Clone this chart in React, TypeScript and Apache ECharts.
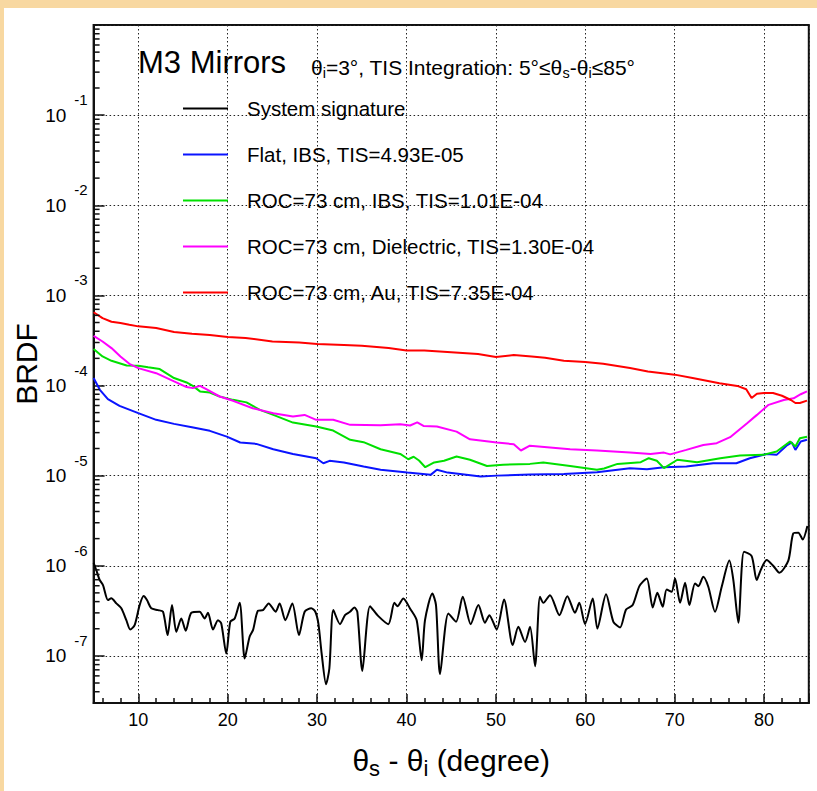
import React, { useEffect, useRef } from 'react';
import * as echarts from 'echarts';

const FONT = "'Liberation Sans', Arial, Helvetica, sans-serif";

const X_MIN = 5;
const X_MAX = 85;
const Y_MIN = 3e-8;
const Y_MAX = 1;

const SERIES_NAMES = [
  'System signature',
  'Flat, IBS, TIS=4.93E-05',
  'ROC=73 cm, IBS, TIS=1.01E-04',
  'ROC=73 cm, Dielectric, TIS=1.30E-04',
  'ROC=73 cm, Au, TIS=7.35E-04',
];
const SERIES_COLORS = ['#000000', '#0a14ff', '#00e000', '#ff00ff', '#ff0000'];

const sysX = [5, 5.3, 5.68, 6.05, 6.61, 6.98, 7.54, 8.1, 8.66, 9.1,
  9.59, 10.15, 10.6, 10.97, 11.45, 12.2, 12.76, 13.28, 13.77, 14.25,
  14.81, 15.3, 15.93, 16.86, 17.42, 17.79, 18.35, 18.91, 19.28, 19.84,
  20.29, 20.78, 21.34, 21.9, 22.45, 22.83, 23.39, 23.95, 24.58, 25.36,
  25.81, 26.44, 27.23, 27.97, 28.61, 29.35, 29.8, 30.14, 30.51, 31.0,
  31.37, 31.82, 32.56, 33.12, 33.68, 34.17, 34.5, 35.06, 35.92, 36.85,
  37.97, 38.64, 38.98, 39.65, 40.39, 41.14, 41.7, 42.07, 42.89, 43.3,
  43.75, 44.68, 45.54, 46.29, 47.18, 48.04, 48.78, 49.27, 50.09, 50.91,
  51.88, 52.51, 53.26, 53.82, 54.38, 54.93, 55.31, 56.05, 57.1, 57.99,
  58.85, 59.33, 59.97, 60.83, 61.35, 62.32, 63.14, 63.89, 64.56, 65.3,
  66.05, 66.87, 67.54, 68.06, 68.66, 69.1, 69.66, 70.04, 70.6, 71.16,
  71.64, 72.27, 72.65, 73.2, 73.76, 74.51, 75.26, 76.11, 76.56, 77.12,
  77.75, 78.61, 79.17, 79.62, 80.29, 81.04, 81.71, 82.71, 83.27, 83.83,
  84.32, 84.84];
const sysY = [1.08e-6, 8.97e-7, 6.95e-7, 6.11e-7, 4.16e-7, 4.35e-7, 3.82e-7, 3.37e-7, 2.49e-7, 1.96e-7,
  2.19e-7, 3.66e-7, 4.61e-7, 4.16e-7, 3.37e-7, 3.22e-7, 3.09e-7, 1.7e-7, 3.66e-7, 1.85e-7,
  2.6e-7, 1.9e-7, 3.01e-7, 3.09e-7, 2.6e-7, 3.01e-7, 1.96e-7, 2.49e-7, 2.29e-7, 1.06e-7,
  2.39e-7, 2.6e-7, 3.89e-7, 9.35e-8, 1.63e-7, 1.93e-7, 3.17e-7, 3.22e-7, 3.82e-7, 3.09e-7,
  3.82e-7, 2.49e-7, 3.82e-7, 1.7e-7, 3.09e-7, 3.37e-7, 3.09e-7, 2.29e-7, 1.06e-7, 4.84e-8,
  7.24e-8, 3.22e-7, 2.25e-7, 2.83e-7, 3.08e-7, 3.44e-7, 3.08e-7, 6.81e-8, 3.56e-7, 2.76e-7,
  2.25e-7, 3.88e-7, 3.56e-7, 4.34e-7, 3.36e-7, 2.49e-7, 8.95e-8, 2.49e-7, 4.93e-7, 3.66e-7,
  6.27e-8, 2.96e-7, 2.39e-7, 4.53e-7, 2.25e-7, 3.66e-7, 2.33e-7, 2.83e-7, 1.96e-7, 4.23e-7,
  1.32e-7, 2.1e-7, 1.43e-7, 2.1e-7, 7.67e-8, 4.53e-7, 3.88e-7, 4.72e-7, 2.83e-7, 4.6e-7,
  3.01e-7, 3.88e-7, 2.25e-7, 4.34e-7, 2.01e-7, 4.84e-7, 2.39e-7, 2.07e-7, 3.27e-7, 3.66e-7,
  5.94e-7, 7.23e-7, 3.44e-7, 5.01e-7, 3.51e-7, 5.46e-7, 5.14e-7, 7.23e-7, 3.88e-7, 6.47e-7,
  3.66e-7, 6.37e-7, 5.94e-7, 7.55e-7, 5.85e-7, 3.08e-7, 5.85e-7, 1.14e-6, 6.93e-7, 2.33e-7,
  1.43e-6, 1.28e-6, 6.93e-7, 8.95e-7, 1.16e-6, 9.93e-7, 8.36e-7, 1.14e-6, 2.29e-6, 2.33e-6,
  1.96e-6, 2.76e-6];

const flatX = [5, 5.7, 6.6, 7.9, 10, 12, 14, 16, 18, 19.9, 21.4, 23.2, 25.1, 27.3, 29.9,
  30.7, 31.4, 33, 35.2, 37.1, 40.1, 42.7, 43.4, 44.6, 46, 48.3, 50.1, 53.8, 57.6, 61.3,
  65, 66.9, 68.8, 71.3, 74.3, 76.9, 78.4, 80.3, 81.4, 82.5, 83.1, 83.5, 84.1, 84.8];
const flatY = [1.21e-4, 8.95e-5, 7.06e-5, 5.94e-5, 4.93e-5, 4.16e-5, 3.75e-5, 3.44e-5, 3.14e-5, 2.71e-5,
  2.33e-5, 2.25e-5, 1.96e-5, 1.74e-5, 1.56e-5, 1.37e-5, 1.46e-5, 1.4e-5, 1.26e-5, 1.16e-5,
  1.08e-5, 1.02e-5, 1.16e-5, 1.08e-5, 1.04e-5, 9.75e-6, 1.0e-5, 1.03e-5, 1.04e-5, 1.09e-5,
  1.21e-5, 1.18e-5, 1.24e-5, 1.26e-5, 1.37e-5, 1.37e-5, 1.56e-5, 1.74e-5, 1.7e-5, 2.15e-5,
  2.34e-5, 1.93e-5, 2.39e-5, 2.5e-5];

const ibsX = [5, 6, 7, 8.7, 10, 11.1, 12.4, 14, 15.4, 16.1, 16.9, 18, 19.1, 20.6, 22.1,
  23.6, 25.1, 27.3, 29.9, 31.8, 33.7, 35.2, 37.1, 39.3, 40.2, 40.8, 41.4, 42.1, 43.1, 44.2,
  45.6, 47.1, 49, 50.8, 53.8, 55.3, 58.3, 61.3, 62.1, 63.6, 66.2, 67.1, 68, 68.8, 70.3,
  72.5, 75.1, 77.3, 79.9, 81.4, 82.9, 83.5, 84, 84.8];
const ibsY = [2.54e-4, 2.1e-4, 1.88e-4, 1.67e-4, 1.66e-4, 1.59e-4, 1.52e-4, 1.21e-4, 1.08e-4, 9.9e-5,
  8.6e-5, 8.35e-5, 7.55e-5, 6.93e-5, 6.5e-5, 5.37e-5, 4.72e-5, 3.88e-5, 3.5e-5, 3.16e-5,
  2.5e-5, 2.35e-5, 1.96e-5, 1.74e-5, 1.52e-5, 1.62e-5, 1.47e-5, 1.24e-5, 1.4e-5, 1.46e-5,
  1.63e-5, 1.5e-5, 1.28e-5, 1.32e-5, 1.35e-5, 1.4e-5, 1.28e-5, 1.16e-5, 1.2e-5, 1.35e-5,
  1.41e-5, 1.56e-5, 1.46e-5, 1.21e-5, 1.5e-5, 1.41e-5, 1.56e-5, 1.67e-5, 1.7e-5, 1.85e-5,
  2.39e-5, 2.1e-5, 2.6e-5, 2.7e-5];

const dielX = [5, 6, 7, 8, 9, 10, 12, 14, 15.4, 16.1, 16.9, 17.6, 19.1, 20.6, 22.8,
  25.1, 27.3, 28.6, 29.9, 31.8, 33.7, 37.1, 39.3, 40.4, 41.2, 41.9, 43.4, 45.6, 47.1, 50.1,
  52, 52.8, 53.8, 58.3, 61.3, 65, 67.3, 68.8, 69.5, 71.3, 73.2, 74.7, 76.2, 78.1, 79.2,
  80.5, 82.2, 83.3, 84.1, 84.8];
const dielY = [3.56e-4, 3.08e-4, 2.6e-4, 2.1e-4, 1.74e-4, 1.56e-4, 1.37e-4, 1.11e-4, 9.6e-5, 9.35e-5,
  9.9e-5, 9.1e-5, 7.55e-5, 6.76e-5, 5.6e-5, 4.93e-5, 4.53e-5, 4.72e-5, 4.16e-5, 4.16e-5,
  3.66e-5, 3.63e-5, 3.71e-5, 3.6e-5, 3.9e-5, 3.56e-5, 3.5e-5, 3.08e-5, 2.53e-5, 2.33e-5,
  2.23e-5, 1.9e-5, 2.15e-5, 1.96e-5, 1.9e-5, 1.8e-5, 1.74e-5, 1.8e-5, 1.72e-5, 1.93e-5,
  2.19e-5, 2.29e-5, 2.67e-5, 3.82e-5, 4.72e-5, 6.1e-5, 6.9e-5, 7.2e-5, 8.0e-5, 8.6e-5];

const auX = [5, 6, 7, 8, 9, 10, 12, 14, 16, 18, 20, 22, 25, 28, 30, 33, 35, 38, 40, 42,
  45, 48, 50, 52, 54, 55.5, 57.6, 60, 62, 65, 67, 70, 72, 75, 77, 78, 78.6, 79.2, 80, 81,
  82, 83, 83.5, 84, 84.8];
const auY = [6.5e-4, 5.6e-4, 5.1e-4, 4.93e-4, 4.72e-4, 4.53e-4, 4.35e-4, 3.92e-4, 3.75e-4, 3.63e-4,
  3.45e-4, 3.37e-4, 3.08e-4, 3.0e-4, 2.88e-4, 2.81e-4, 2.76e-4, 2.6e-4, 2.45e-4, 2.45e-4,
  2.34e-4, 2.23e-4, 2.07e-4, 2.18e-4, 2.1e-4, 2.03e-4, 1.88e-4, 1.82e-4, 1.74e-4, 1.56e-4,
  1.43e-4, 1.32e-4, 1.21e-4, 1.06e-4, 9.9e-5, 9.1e-5, 7.25e-5, 8.1e-5, 8.25e-5, 8.25e-5,
  7.7e-5, 6.9e-5, 6.4e-5, 6.4e-5, 6.8e-5];

// minor tick positions of the log axis (k * 10^n)
const MINOR_MULTS = [2, 3, 4, 5, 6, 7, 8, 9];
const DECADES = [-8, -7, -6, -5, -4, -3, -2, -1];

const zip = (xs: number[], ys: number[]) => xs.map((x, i) => [x, ys[i]]);

export default function App() {
  const ref = useRef<HTMLDivElement>(null);

  useEffect(() => {
    document.body.style.margin = '0';
    if (!ref.current) return;
    const chart = echarts.init(ref.current, null, { renderer: 'svg' });

    const minorTickData: number[][] = [];
    DECADES.forEach((d) => {
      MINOR_MULTS.forEach((m) => {
        const v = m * Math.pow(10, d);
        if (v > Y_MIN && v < Y_MAX) minorTickData.push([X_MIN, v]);
      });
    });

    const xs = [sysX, flatX, ibsX, dielX, auX];
    const ys = [sysY, flatY, ibsY, dielY, auY];

    const lineSeries = SERIES_NAMES.map((name, i) => ({
      name,
      type: 'line',
      data: zip(xs[i], ys[i]),
      symbol: 'none',
      smooth: i === 0 ? 0.25 : false,
      lineStyle: { color: SERIES_COLORS[i], width: 2 },
      itemStyle: { color: SERIES_COLORS[i] },
      z: 3 + i,
    }));

    const option: any = {
      animation: false,
      backgroundColor: 'transparent',
      textStyle: { fontFamily: FONT },
      grid: {
        left: 93.6,
        right: 8.2,
        top: 25,
        bottom: 88,
        show: true,
        containLabel: false,
        outerBoundsMode: 'none',
        borderColor: '#111',
        borderWidth: 2,
        backgroundColor: 'transparent',
      },
      legend: {
        data: SERIES_NAMES,
        orient: 'vertical',
        left: 183,
        top: 98,
        itemGap: 25,
        itemWidth: 45,
        itemHeight: 2,
        icon: 'rect',
        selectedMode: false,
        padding: 0,
        textStyle: { fontSize: 20.5, color: '#000', fontFamily: FONT, padding: [0, 0, 0, 14] },
      },
      xAxis: {
        type: 'value',
        min: X_MIN,
        max: X_MAX,
        splitNumber: 8,
        name: '{t|θ}{s|s}{t| - θ}{s|i}{t| (degree)}',
        nameLocation: 'middle',
        nameGap: 38,
        nameMoveOverlap: false,
        nameTextStyle: {
          color: '#000',
          fontFamily: FONT,
          rich: {
            t: { fontSize: 30, color: '#000', fontFamily: FONT },
            s: { fontSize: 22, color: '#000', fontFamily: FONT, padding: [16, 0, 0, 0] },
          },
        },
        axisLine: { show: true, onZero: false, lineStyle: { color: '#111', width: 2 } },
        axisTick: { show: true, inside: true, length: 9, lineStyle: { color: '#111', width: 1.5 } },
        minorTick: { show: true, splitNumber: 5, length: 5, lineStyle: { color: '#111', width: 1.5 } },
        axisLabel: { fontSize: 18, color: '#000', margin: 8, fontFamily: FONT, showMinLabel: false, showMaxLabel: false },
        splitLine: { show: true, lineStyle: { color: '#222', type: [1.5, 2.5], width: 1 } },
      },
      yAxis: {
        type: 'log',
        logBase: 10,
        min: Y_MIN,
        max: Y_MAX,
        name: 'BRDF',
        nameLocation: 'middle',
        nameGap: 52,
        nameMoveOverlap: false,
        nameTextStyle: { fontSize: 30, color: '#000', fontFamily: FONT },
        axisLine: { show: true, lineStyle: { color: '#111', width: 2 } },
        axisTick: { show: true, inside: true, length: 11, lineStyle: { color: '#111', width: 1.5 } },
        minorTick: { show: false },
        axisLabel: {
          margin: 6,
          showMinLabel: false,
          showMaxLabel: false,
          formatter: (v: number) => {
            const n = Math.round(Math.log10(v));
            return `{b|10}{e|${n}}`;
          },
          rich: {
            b: { fontSize: 19, color: '#000', fontFamily: FONT },
            e: { fontSize: 15, color: '#000', fontFamily: FONT, padding: [0, 0, 31, 8] },
          },
        },
        splitLine: { show: true, lineStyle: { color: '#222', type: [1.5, 2.5], width: 1 } },
      },
      graphic: [
        {
          type: 'text',
          x: 138,
          y: 62,
          silent: true,
          style: {
            text: 'M3 Mirrors',
            fontSize: 31,
            fontFamily: FONT,
            fill: '#000',
            align: 'left',
            verticalAlign: 'middle',
            textAlign: 'left',
            textVerticalAlign: 'middle',
          },
        },
        {
          type: 'text',
          x: 311,
          y: 67,
          silent: true,
          style: {
            text: '{t|θ}{s|i}{t|=3°, TIS Integration: 5°≤θ}{s|s}{t|-θ}{s|i}{t|≤85°}',
            fontFamily: FONT,
            fill: '#000',
            align: 'left',
            verticalAlign: 'middle',
            textAlign: 'left',
            textVerticalAlign: 'middle',
            rich: {
              t: { fontSize: 21, fontFamily: FONT, fill: '#000' },
              s: { fontSize: 14.5, fontFamily: FONT, fill: '#000', padding: [12, 0, 0, 0] },
            },
          },
        },
      ],
      series: [
        ...lineSeries,
        {
          name: 'minor-ticks',
          type: 'custom',
          silent: true,
          clip: false,
          z: 10,
          data: minorTickData,
          renderItem: (params: any, api: any) => {
            const p = api.coord([api.value(0), api.value(1)]);
            return {
              type: 'line',
              shape: { x1: p[0], y1: p[1], x2: p[0] + 6, y2: p[1] },
              style: { stroke: '#111', lineWidth: 1.5 },
            };
          },
        },
      ],
    };

    chart.setOption(option);
    return () => chart.dispose();
  }, []);

  return (
    <div style={{ position: 'absolute', left: 0, top: 0, width: 817, height: 791, background: '#f8d8a1' }}>
      <div style={{ position: 'absolute', left: 4, top: 8, width: 813, height: 783, background: '#ffffff' }} />
      <div ref={ref} style={{ position: 'absolute', left: 0, top: 0, width: 817, height: 791 }} />
    </div>
  );
}
